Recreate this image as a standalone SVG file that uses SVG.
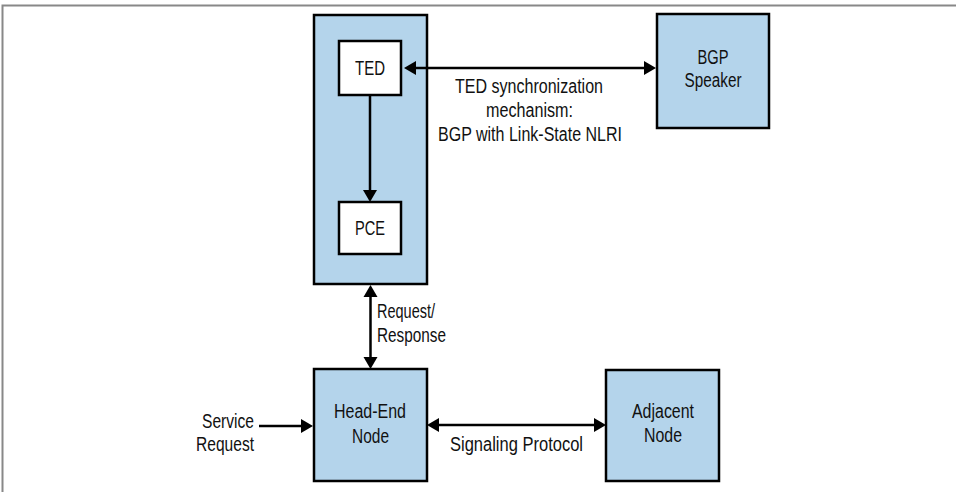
<svg xmlns="http://www.w3.org/2000/svg" width="956" height="492" viewBox="0 0 956 492">
<style>
.box{fill:#b4d4eb;stroke:#000;stroke-width:2.5}
.inner{fill:#fff;stroke:#000;stroke-width:2.5}
.t{font-family:"Liberation Sans",Arial,sans-serif;font-size:20px;fill:#111}
.c{text-anchor:middle}
.e{text-anchor:end}
.ln{stroke:#000;stroke-width:2.5;fill:none;marker-end:url(#ah)}
.bi{marker-start:url(#ah)}
</style>
<defs>
<marker id="ah" markerUnits="userSpaceOnUse" markerWidth="16" markerHeight="16" viewBox="0 -8 14 16" refX="0" refY="0" orient="auto-start-reverse">
<path d="M0,-7 L12,0 L0,7 Z" fill="#000"/>
</marker>
</defs>
<rect width="956" height="492" fill="#fff"/>
<g id="frame" stroke="#888" stroke-width="2" fill="none">
<path d="M2.5,492 L2.5,5.5 L956,5.5"/>
</g>
<g id="pce-server">
<rect class="box" x="314" y="15" width="113" height="269"/>
</g>
<g id="ted">
<rect class="inner" x="339" y="41" width="62" height="54"/>
<text class="t c" x="370" y="75" textLength="30" lengthAdjust="spacingAndGlyphs">TED</text>
</g>
<g id="pce">
<rect class="inner" x="339" y="202" width="62" height="52"/>
<text class="t c" x="370" y="235" textLength="30" lengthAdjust="spacingAndGlyphs">PCE</text>
</g>
<g id="bgp-speaker">
<rect class="box" x="657" y="14" width="112" height="114"/>
<text class="t c" x="713" y="64" textLength="31" lengthAdjust="spacingAndGlyphs">BGP</text>
<text class="t c" x="713" y="87" textLength="57" lengthAdjust="spacingAndGlyphs">Speaker</text>
</g>
<g id="head-end-node">
<rect class="box" x="314" y="369" width="113" height="112"/>
<text class="t c" x="370" y="418" textLength="72" lengthAdjust="spacingAndGlyphs">Head-End</text>
<text class="t c" x="370.5" y="443" textLength="37" lengthAdjust="spacingAndGlyphs">Node</text>
</g>
<g id="adjacent-node">
<rect class="box" x="606" y="370" width="113" height="111"/>
<text class="t c" x="663" y="418" textLength="62" lengthAdjust="spacingAndGlyphs">Adjacent</text>
<text class="t c" x="663" y="442" textLength="38" lengthAdjust="spacingAndGlyphs">Node</text>
</g>
<g id="connectors">
<line class="ln" x1="370" y1="95" x2="370" y2="190"/>
<line class="ln bi" x1="416" y1="68" x2="644" y2="68"/>
<line class="ln bi" x1="370.5" y1="297" x2="370.5" y2="357"/>
<line class="ln" x1="259" y1="426" x2="301" y2="426"/>
<line class="ln bi" x1="439" y1="425" x2="594" y2="425"/>
</g>
<g id="labels">
<text class="t c" x="529" y="93" textLength="148" lengthAdjust="spacingAndGlyphs">TED synchronization</text>
<text class="t c" x="529.5" y="117" textLength="87" lengthAdjust="spacingAndGlyphs">mechanism:</text>
<text class="t c" x="530" y="141" textLength="184" lengthAdjust="spacingAndGlyphs">BGP with Link-State NLRI</text>
<text class="t" x="377" y="318" textLength="58" lengthAdjust="spacingAndGlyphs">Request/</text>
<text class="t" x="377" y="342" textLength="69" lengthAdjust="spacingAndGlyphs">Response</text>
<text class="t e" x="254" y="428" textLength="52" lengthAdjust="spacingAndGlyphs">Service</text>
<text class="t e" x="254" y="451" textLength="58" lengthAdjust="spacingAndGlyphs">Request</text>
<text class="t c" x="516.5" y="451" textLength="133" lengthAdjust="spacingAndGlyphs">Signaling Protocol</text>
</g>
</svg>
